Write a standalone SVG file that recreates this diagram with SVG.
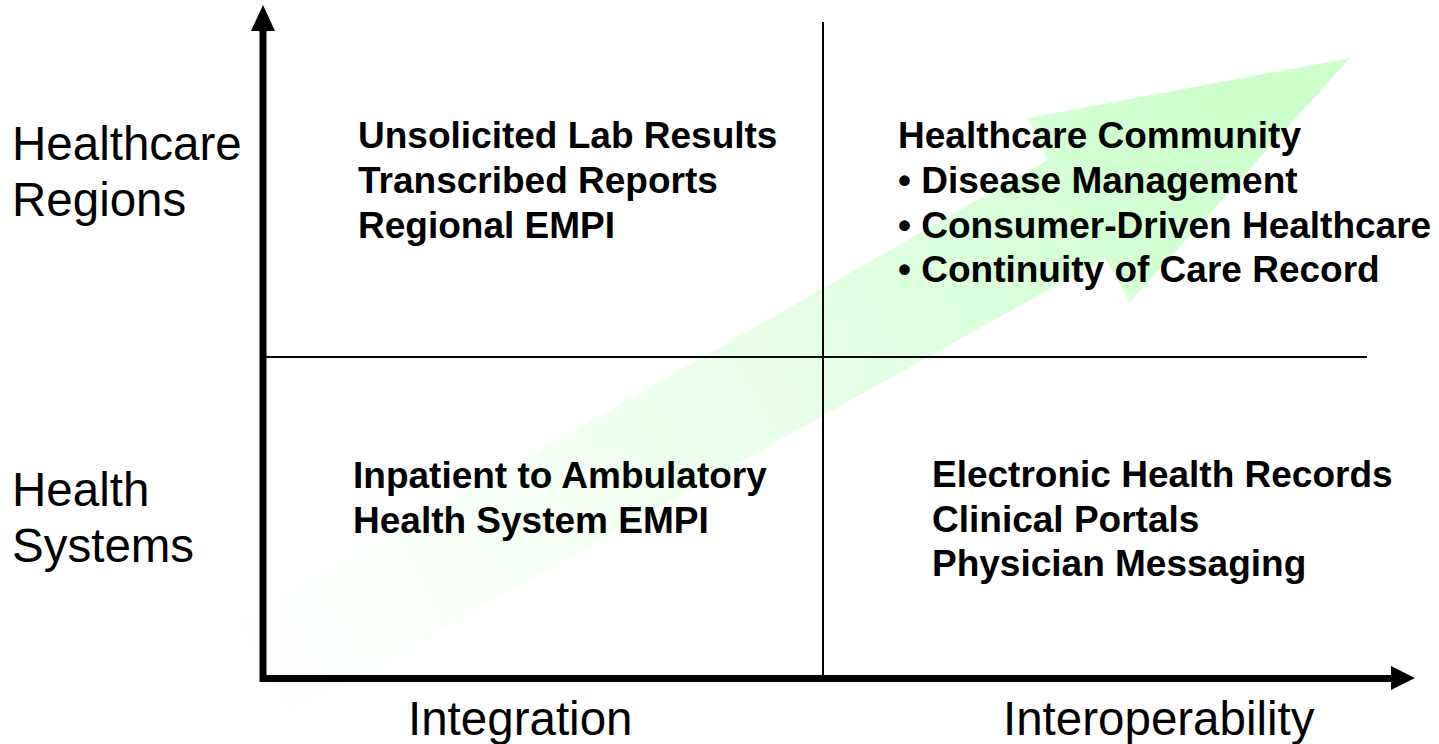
<svg xmlns="http://www.w3.org/2000/svg" width="1439" height="744" viewBox="0 0 1439 744">
<defs>
<linearGradient id="g" gradientUnits="userSpaceOnUse" x1="240" y1="670" x2="1350" y2="58">
<stop offset="0" stop-color="#ccffcc" stop-opacity="0.03"/>
<stop offset="0.3" stop-color="#ccffcc" stop-opacity="0.22"/>
<stop offset="0.55" stop-color="#ccffcc" stop-opacity="0.58"/>
<stop offset="0.9" stop-color="#ccffcc" stop-opacity="1"/>
</linearGradient>
<style>
.lab{font-family:"Liberation Sans",Arial,sans-serif;font-size:47.5px;fill:#000}
.b{font-family:"Liberation Sans",Arial,sans-serif;font-size:37px;font-weight:bold;fill:#000}
</style>
</defs>
<rect width="1439" height="744" fill="#fff"/>
<g id="trend-arrow">
<polygon points="238,622 1048,160 1028,118 1350,58 1130,302 1105,258 288,715" fill="url(#g)"/>
</g>
<g id="connectors">
<line x1="823" y1="22" x2="823" y2="676" stroke="#000" stroke-width="2"/>
<line x1="266" y1="357" x2="1367" y2="357" stroke="#000" stroke-width="2"/>
<line x1="263" y1="682" x2="263" y2="28" stroke="#000" stroke-width="7"/>
<polygon points="263,5 251,31 275,31" fill="#000"/>
<line x1="260" y1="678.5" x2="1394" y2="678.5" stroke="#000" stroke-width="7"/>
<polygon points="1415,678 1391,666 1391,690" fill="#000"/>
</g>
<g id="axis-labels">
<text class="lab" x="12" y="160">Healthcare</text>
<text class="lab" x="12" y="216">Regions</text>
<text class="lab" x="12" y="506">Health</text>
<text class="lab" x="12" y="562">Systems</text>
<text class="lab" x="408" y="735">Integration</text>
<text class="lab" x="1003" y="735">Interoperability</text>
</g>
<g id="q-top-left">
<text class="b" x="358" y="148">Unsolicited Lab Results</text>
<text class="b" x="358" y="193">Transcribed Reports</text>
<text class="b" x="358" y="238">Regional EMPI</text>
</g>
<g id="q-top-right">
<text class="b" x="898" y="148">Healthcare Community</text>
<text class="b" x="898" y="193">• Disease Management</text>
<text class="b" x="898" y="238">• Consumer-Driven Healthcare</text>
<text class="b" x="898" y="282">• Continuity of Care Record</text>
</g>
<g id="q-bottom-left">
<text class="b" x="353" y="488">Inpatient to Ambulatory</text>
<text class="b" x="353" y="533">Health System EMPI</text>
</g>
<g id="q-bottom-right">
<text class="b" x="932" y="487">Electronic Health Records</text>
<text class="b" x="932" y="532">Clinical Portals</text>
<text class="b" x="932" y="576">Physician Messaging</text>
</g>
</svg>
